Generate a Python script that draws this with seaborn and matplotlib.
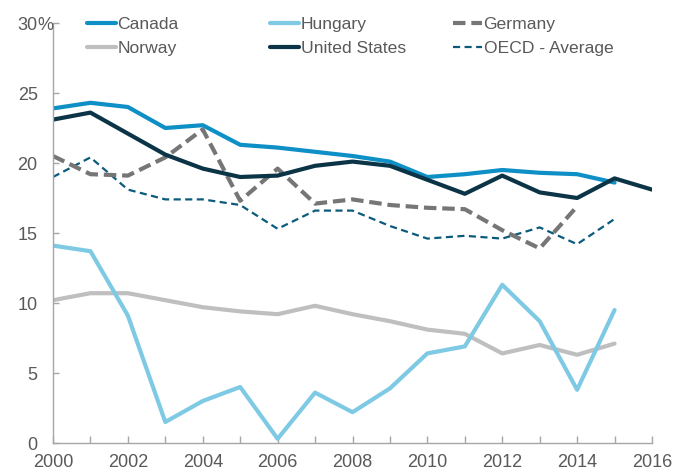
import numpy as np
import pandas as pd
import matplotlib
matplotlib.use("Agg")
import matplotlib.pyplot as plt
import seaborn as sns
from matplotlib.lines import Line2D

years = list(range(2000, 2017))
canada = [23.9, 24.3, 24.0, 22.5, 22.7, 21.3, 21.1, 20.8, 20.5, 20.1, 19.0, 19.2, 19.5, 19.3, 19.2, 18.6, None]
hungary = [14.1, 13.7, 9.1, 1.5, 3.0, 4.0, 0.3, 3.6, 2.2, 3.9, 6.4, 6.9, 11.3, 8.7, 3.8, 9.5, None]
germany = [20.5, 19.2, 19.1, 20.4, 22.4, 17.3, 19.6, 17.1, 17.4, 17.0, 16.8, 16.7, 15.2, 13.9, 16.9, None, None]
norway = [10.2, 10.7, 10.7, 10.2, 9.7, 9.4, 9.2, 9.8, 9.2, 8.7, 8.1, 7.8, 6.4, 7.0, 6.3, 7.1, None]
usa = [23.1, 23.6, 22.1, 20.6, 19.6, 19.0, 19.1, 19.8, 20.1, 19.8, 18.8, 17.8, 19.1, 17.9, 17.5, 18.9, 18.1]
oecd = [19.0, 20.4, 18.1, 17.4, 17.4, 17.0, 15.3, 16.6, 16.6, 15.5, 14.6, 14.8, 14.6, 15.4, 14.2, 16.0, None]

y_ticks = [0, 5, 10, 15, 20, 25, 30]
y_tick_labels = ["0", "5", "10", "15", "20", "25", "30"]
x_ticks = [2000, 2002, 2004, 2006, 2008, 2010, 2012, 2014, 2016]

series = [
    ("Canada", canada, "#0e8fc6", 3.0, "-"),
    ("Hungary", hungary, "#7ecae4", 3.0, "-"),
    ("Germany", germany, "#767676", 3.0, (0, (3, 1.4))),
    ("Norway", norway, "#bfbfbf", 3.0, "-"),
    ("United States", usa, "#0b3446", 3.0, "-"),
    ("OECD - Average", oecd, "#0b5b7c", 1.6, (0, (3.2, 2.0))),
]
draw_order = ["Norway", "Hungary", "OECD - Average", "Germany", "Canada", "United States"]

sns.set_style("ticks")
plt.rcParams["font.family"] = ["Liberation Sans", "DejaVu Sans"]

W, H = 687, 476
fig = plt.figure(figsize=(W / 100, H / 100), dpi=100)
x0, x1, y0, y1 = 53, 652, 443, 23
ax = fig.add_axes([x0 / W, 1 - y0 / H, (x1 - x0) / W, (y0 - y1) / H])

info = {s[0]: s for s in series}
for name in draw_order:
    _, vals, col, lw, ls = info[name]
    df = pd.DataFrame({"year": years, "value": vals}).dropna()
    sns.lineplot(data=df, x="year", y="value", ax=ax, color=col, linewidth=lw,
                 linestyle=ls, legend=False)

txt_col = "#595959"
ax.set_xlim(2000, 2016)
ax.set_ylim(0, 30)
ax.set_xticks(x_ticks)
ax.set_xticklabels([str(x) for x in x_ticks])
ax.set_xticks(years, minor=True)
ax.set_yticks(y_ticks)
ax.set_yticklabels(y_tick_labels)
ax.set_xlabel("")
ax.set_ylabel("")
for side in ["top", "right"]:
    ax.spines[side].set_visible(False)
for side in ["left", "bottom"]:
    ax.spines[side].set_color("#a6a6a6")
    ax.spines[side].set_linewidth(1.0)
ax.tick_params(axis="both", which="both", color="#a6a6a6", direction="in", width=1.0)
ax.tick_params(axis="x", which="both", length=5, labelsize=13, labelcolor=txt_col, pad=8)
ax.tick_params(axis="y", length=4, labelsize=13, labelcolor=txt_col, pad=11)
# percent sign appended to the top tick label
ax.annotate("%", xy=(0, 30), xycoords=("axes fraction", "data"),
            xytext=(-11.5, 0), textcoords="offset points",
            ha="left", va="center_baseline", fontsize=13, color=txt_col)

cols = [["Canada", "Norway"], ["Hungary", "United States"], ["Germany", "OECD - Average"]]
xpos = [87, 270, 453]
for i, names in enumerate(cols):
    handles = []
    for n in names:
        _, _, col, lw, ls = info[n]
        handles.append(Line2D([0], [0], color=col, linewidth=lw, linestyle=ls))
    leg = fig.legend(handles, names, loc="upper left",
                     bbox_to_anchor=(xpos[i] / W, 1 - 17 / H),
                     frameon=False, fontsize=12.6, handlelength=1.65, handletextpad=0.1,
                     labelspacing=0.48, borderaxespad=0, borderpad=0)
    for t in leg.get_texts():
        t.set_color(txt_col)

fig.savefig("out.png", dpi=100, facecolor="white")
